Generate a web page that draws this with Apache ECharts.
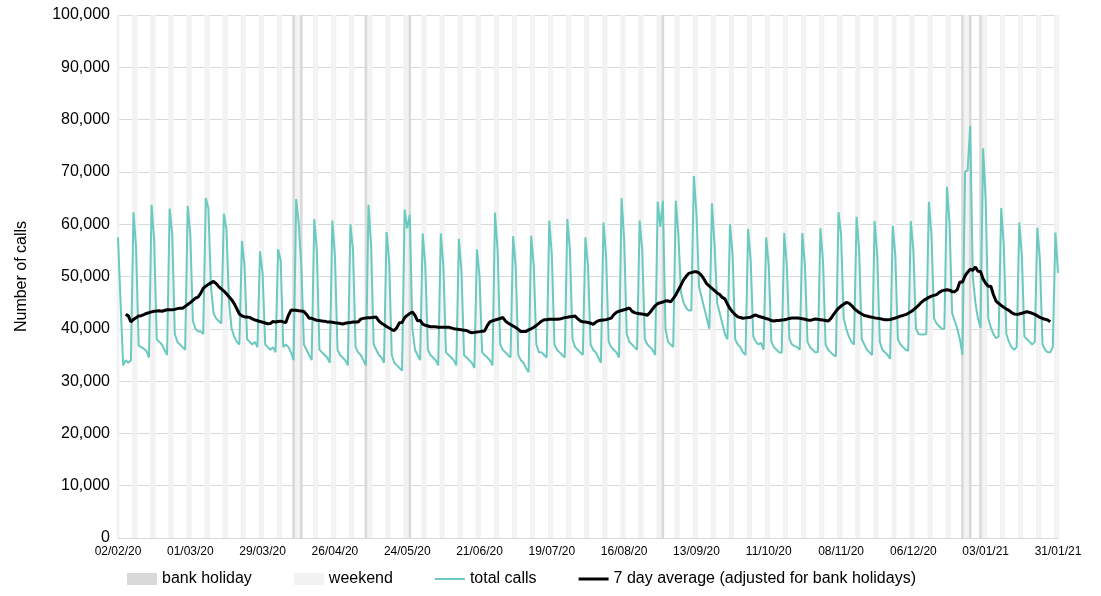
<!DOCTYPE html>
<html lang="en">
<head>
<meta charset="UTF-8">
<title>Calls</title>
<script src="https://cdn.jsdelivr.net/npm/echarts@6/dist/echarts.min.js"></script>
</head>
<body style="margin:0">
<div id="chart" style="width:1101px;height:596px;"></div>
<script>
// daily total calls, thousands. first days Sun 02/02/20 - Fri 07/02/20
var firstDays = [57.5, 45, 33, 34, 33.5, 34];
// then weeks Sat..Fri
var weeks = [
  [62.3, 55.5, 36.8, 36.5, 36.2, 35.8, 34.5],
  [63.7, 57, 38, 37.5, 37, 36, 35],
  [63, 58, 39, 37.5, 37, 36.5, 36],
  [63.5, 58, 41.5, 40, 39.5, 39.5, 39],
  [65, 63, 48, 43, 42, 41.5, 41],
  [62, 59, 45, 40, 38.5, 37.5, 37],
  [56.8, 52, 38, 37.5, 37, 37.5, 36.5],
  [54.8, 50.5, 37, 36.5, 36, 36.5, 35.5],
  [55.2, 53, 36.5, 37, 36.5, 35.5, 34],
  [64.8, 60, 52, 37, 36, 35, 34],
  [61, 55, 36, 35.5, 35, 34.5, 33.5],
  [60.7, 54, 36, 35, 34.5, 34, 33],
  [60, 55, 36.5, 35.5, 35, 34, 33],
  [63.7, 56, 37, 36, 35, 34.5, 33.5],
  [58.5, 53, 35, 33.5, 33, 32.5, 32],
  [62.8, 59.2, 61.8, 40, 36, 35, 34],
  [58.2, 52, 36, 35, 34.5, 34, 33],
  [58.2, 52, 35.5, 35, 34.5, 34, 33],
  [57.2, 51, 35, 34.5, 34, 33.5, 32.5],
  [55.2, 50, 35.5, 35, 34.5, 34, 33],
  [62.2, 55, 37, 36, 35.5, 35, 34.5],
  [57.7, 52, 35, 34, 33.5, 32.5, 31.7],
  [57.8, 52, 37, 35.5, 35.5, 35, 34.5],
  [60.7, 54, 37, 36, 35.5, 35, 34.5],
  [61, 55, 38, 36.5, 36, 35.5, 35],
  [57.5, 52, 37, 36, 35.5, 34.5, 33.5],
  [60.3, 54, 37.5, 36.5, 36, 35.5, 34.5],
  [65, 57, 39, 37.5, 37, 36.5, 36],
  [60.7, 55, 38, 37, 36.5, 36, 35],
  [64.3, 59.5, 64.5, 40, 37.5, 37, 36.5],
  [64.5, 58, 47, 45, 44, 43.5, 43.5],
  [69.2, 62, 48, 46, 44, 42, 40],
  [64, 56, 45, 43, 41, 39, 38],
  [60, 54, 38, 37, 36.5, 35.5, 35],
  [59.1, 53, 38.5, 37.5, 37, 37.3, 36],
  [57.5, 52, 37.5, 36.5, 36, 35.5, 35.4],
  [58.3, 52, 38, 37, 36.7, 36.5, 36],
  [58.3, 52, 37.5, 36.5, 36, 35.5, 35.5],
  [59.2, 53, 37, 36, 35.5, 35, 34.7],
  [62.3, 58, 42, 40, 38.5, 37.5, 37],
  [61.4, 55, 38, 37, 36, 35.5, 35],
  [60.6, 54, 37.5, 36, 35.5, 35, 34.3],
  [59.7, 54, 38, 37, 36.5, 36, 35.8],
  [60.6, 55, 40, 39, 38.9, 38.9, 39],
  [64.3, 58, 42, 41, 40.5, 40, 40],
  [67.2, 60, 43, 41.5, 40, 38, 35],
  [70, 70.3, 78.8, 50, 45, 42, 40.2],
  [74.5, 64.6, 42, 40.2, 39, 38.2, 38.5],
  [63.1, 56, 39, 37.5, 36.5, 36, 36.5],
  [60.3, 54, 38.5, 38, 37.5, 37, 37.5],
  [59.3, 53, 37, 36, 35.5, 35.5, 36.5]
];
var lastDays = [58.4, 50.7];
var bankHolidays = ['10/04/20', '13/04/20', '08/05/20', '25/05/20', '31/08/20', '25/12/20', '28/12/20', '01/01/21'];

var total = firstDays.concat.apply(firstDays, weeks).concat(lastDays).map(function (v) { return Math.round(v * 1000); });

var dates = [], weekend = [], holiday = [], isHol = [];
var d = new Date(2020, 1, 2);
function pad(n) { return (n < 10 ? '0' : '') + n; }
for (var i = 0; i < total.length; i++) {
  var s = pad(d.getDate()) + '/' + pad(d.getMonth() + 1) + '/' + String(d.getFullYear()).slice(2);
  dates.push(s);
  var wd = d.getDay();
  weekend.push(wd === 0 || wd === 6 ? 100000 : '-');
  var h = bankHolidays.indexOf(s) >= 0;
  isHol.push(h);
  holiday.push(h ? 100000 : '-');
  d.setDate(d.getDate() + 1);
}
// bank holidays swapped for the same weekday a week before / after
var adj = total.map(function (v, i) {
  if (!isHol[i]) return v;
  var a = (i >= 7 && !isHol[i - 7]) ? total[i - 7] : null;
  var b = (i + 7 < total.length && !isHol[i + 7]) ? total[i + 7] : null;
  if (a !== null && b !== null) return (a + b) / 2;
  return a !== null ? a : (b !== null ? b : v);
});
// centred 7 day average
var avg = adj.map(function (v, i) {
  if (i < 3 || i > adj.length - 4) return '-';
  var sum = 0;
  for (var k = -3; k <= 3; k++) sum += adj[i + k];
  return Math.round(sum / 7);
});

var chart = echarts.init(document.getElementById('chart'));
chart.setOption({
  animation: false,
  textStyle: { fontFamily: 'Liberation Sans, Arial' },
  grid: { left: 118, right: 43, top: 15, bottom: 58 },
  legend: {
    bottom: 4, left: 122, itemWidth: 30, itemHeight: 12, itemGap: 42,
    textStyle: { fontSize: 16, color: '#000' },
    data: [
      { name: 'bank holiday', icon: 'rect' },
      { name: 'weekend', icon: 'rect' },
      { name: 'total calls', icon: 'path://M0,0 L30,0 L30,2 L0,2 Z', itemStyle: { color: '#6cc9bf' } },
      { name: '7 day average (adjusted for bank holidays)', icon: 'path://M0,0 L30,0 L30,3 L0,3 Z', itemStyle: { color: '#000' } }
    ]
  },
  xAxis: {
    type: 'category', data: dates, boundaryGap: false,
    axisLine: { lineStyle: { color: '#d9d9d9' } },
    axisTick: { show: false },
    axisLabel: { color: '#000', fontSize: 12, interval: function (i) { return i % 28 === 0; }, showMaxLabel: true }
  },
  yAxis: {
    type: 'value', min: 0, max: 100000, interval: 10000,
    name: 'Number of calls', nameLocation: 'middle', nameGap: 88, nameRotate: 90,
    nameTextStyle: { fontSize: 16, color: '#000' },
    axisLabel: { color: '#000', fontSize: 16, formatter: function (v) { return v.toLocaleString('en-GB'); } },
    splitLine: { lineStyle: { color: '#d9d9d9' } }
  },
  series: [
    { name: 'weekend', type: 'bar', data: weekend, barWidth: '100%', barGap: '-100%', itemStyle: { color: '#f2f2f2' }, z: 1 },
    { name: 'bank holiday', type: 'bar', data: holiday, barWidth: '100%', barGap: '-100%', itemStyle: { color: '#d9d9d9' }, z: 1 },
    { name: 'total calls', type: 'line', data: total, showSymbol: false, lineStyle: { color: '#6cc9bf', width: 2 }, itemStyle: { color: '#6cc9bf' }, z: 3 },
    { name: '7 day average (adjusted for bank holidays)', type: 'line', data: avg, showSymbol: false, lineStyle: { color: '#000', width: 3 }, itemStyle: { color: '#000' }, z: 4 }
  ]
});
</script>
</body>
</html>
